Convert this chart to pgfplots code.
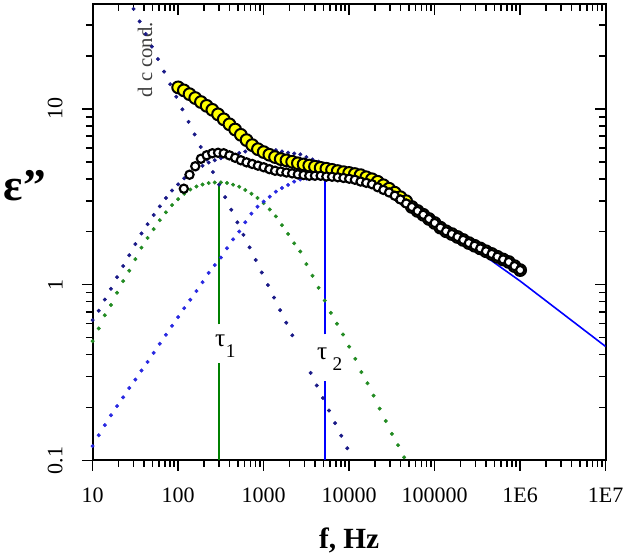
\documentclass[border=0pt]{standalone}
\usepackage{pgfplots}
\pgfplotsset{compat=1.18}
\usepackage{fontspec}
\setmainfont{Liberation Serif}
\definecolor{gdot}{RGB}{34,139,34}
\definecolor{bdot}{RGB}{40,40,225}
\definecolor{ndot}{RGB}{25,25,135}
\definecolor{gline}{RGB}{0,128,0}
\definecolor{bline}{RGB}{0,0,255}
\definecolor{yel}{RGB}{255,255,0}
\definecolor{txtgray}{RGB}{60,60,60}
\begin{document}
\begin{tikzpicture}
% mirror axis: inward ticks on top and right
\begin{axis}[xmode=log, ymode=log, scale only axis, width=385pt, height=342.4pt,
    xmin=10, xmax=1e7, ymin=0.1, ymax=39.5,
    axis line style={line width=1.5pt},
    tick style={line width=1.2pt, black},
    major tick length=8pt, minor tick length=5pt,
    xtick={10,100,1000,10000,100000,1000000,10000000},
    ytick={0.1,1,10},
    minor xtick={20,30,40,50,60,70,80,90,200,300,400,500,600,700,800,900,2000,3000,4000,5000,6000,7000,8000,9000,20000,30000,40000,50000,60000,70000,80000,90000,200000,300000,400000,500000,600000,700000,800000,900000,2000000,3000000,4000000,5000000,6000000,7000000,8000000,9000000},
    minor ytick={0.2,0.3,0.4,0.5,0.6,0.7,0.8,0.9,2,3,4,5,6,7,8,9,20,30},
    tick align=inside, xtick pos=right, ytick pos=right,
    xticklabels={}, yticklabels={}]
\end{axis}
\begin{axis}[xmode=log, ymode=log, scale only axis, width=385pt, height=342.4pt,
    xmin=10, xmax=1e7, ymin=0.1, ymax=39.5,
    axis line style={line width=1.5pt},
    tick style={line width=1.2pt, black},
    major tick length=8pt, minor tick length=5pt,
    xtick={10,100,1000,10000,100000,1000000,10000000},
    ytick={0.1,1,10},
    minor xtick={20,30,40,50,60,70,80,90,200,300,400,500,600,700,800,900,2000,3000,4000,5000,6000,7000,8000,9000,20000,30000,40000,50000,60000,70000,80000,90000,200000,300000,400000,500000,600000,700000,800000,900000,2000000,3000000,4000000,5000000,6000000,7000000,8000000,9000000},
    minor ytick={0.2,0.3,0.4,0.5,0.6,0.7,0.8,0.9,2,3,4,5,6,7,8,9,20,30},
  name=main, tick align=outside, xtick pos=left, ytick pos=left,
  xticklabels={10,100,1000,10000,100000,1E6,1E7},
  yticklabels={0.1,1,10},
  tick label style={font=\fontsize{16.5}{18}\selectfont},
  xticklabel shift=9pt,
  yticklabel shift=11pt,
  yticklabel style={rotate=90, anchor=south},
  xlabel={f, Hz},
  xlabel style={font=\fontsize{22}{26}\selectfont\bfseries, at={(axis description cs:0.5,-0.176)}, anchor=center},
  ylabel={ε\symbol{34}},
  ylabel style={rotate=-90, font=\fontsize{34}{40}\selectfont\bfseries, at={(axis description cs:-0.132,0.601)}, anchor=center},
]
% relaxation 1 (green dotted)
\addplot[only marks, mark=*, mark size=1.3pt, color=gdot] coordinates {
(10,0.4763)(11.788,0.5630)(13.895,0.6692)(16.379,0.7657)(19.307,0.8984)(22.758,1.0469)(26.827,1.1995)(31.623,1.3944)(37.276,1.6226)(43.940,1.8420)(51.795,2.0671)(61.054,2.3253)(71.969,2.5785)(84.834,2.8333)(100,3.0606)(117.88,3.2888)(138.95,3.4747)(163.79,3.6141)(193.07,3.7096)(227.58,3.7830)(268.27,3.8135)(316.23,3.8135)(372.76,3.7882)(439.40,3.7001)(517.95,3.6043)(610.54,3.4524)(719.69,3.2888)(848.34,3.1123)(1000,2.9083)(1178.8,2.6750)(1389.5,2.4443)(1637.9,2.1781)(1930.7,1.9414)(2275.8,1.7170)(2682.7,1.5423)(3162.3,1.3078)(3727.6,1.1220)(4394.0,0.9590)(5179.5,0.8111)(6105.4,0.6906)(7196.9,0.5987)(8483.4,0.5199)(10000,0.4431)(11788,0.3778)(13895,0.3179)(16379,0.2746)(19307,0.2334)(22758,0.1969)(26827,0.1674)(31623,0.1414)(37276,0.1220)(43940,0.1040)
};
% relaxation 2 (blue dotted)
\addplot[only marks, mark=*, mark size=1.3pt, color=bdot] coordinates {
(10,0.1206)(11.788,0.1389)(13.895,0.1587)(16.379,0.1806)(19.307,0.2035)(22.758,0.2283)(26.827,0.2578)(31.623,0.2882)(37.276,0.3241)(43.940,0.3628)(51.795,0.4088)(61.054,0.4603)(71.969,0.5180)(84.834,0.5824)(100,0.6535)(117.88,0.7343)(138.95,0.8196)(163.79,0.9185)(193.07,1.0318)(227.58,1.1654)(268.27,1.2905)(316.23,1.4256)(372.76,1.6100)(439.40,1.8088)(517.95,2.0035)(610.54,2.2624)(719.69,2.5316)(848.34,2.7749)(1000,2.9664)(1178.8,3.1623)(1389.5,3.3766)(1637.9,3.5440)(1930.7,3.6898)(2275.8,3.8528)(2682.7,3.9656)(3162.3,4.0070)(3727.6,4.0281)(4394.0,4.0440)(5179.5,4.0551)
};
% sum of relaxations (navy dotted)
\addplot[only marks, mark=*, mark size=1.3pt, color=ndot] coordinates {
(10,0.6284)(11.788,0.7099)(13.895,0.8219)(16.379,0.946)(19.307,1.102)(22.758,1.275)(26.827,1.47)(31.623,1.70)(37.276,1.955)(43.940,2.205)(51.795,2.49)(61.054,2.786)(71.969,3.11)(84.834,3.43)(100,3.72)(117.88,4.023)(138.95,4.294)(163.79,4.533)(193.07,4.741)(227.58,4.948)(268.27,5.104)(316.23,5.239)(372.76,5.398)(439.40,5.509)(517.95,5.608)(610.54,5.715)(719.69,5.820)(848.34,5.887)(1000,5.875)(1178.8,5.837)(1389.5,5.821)(1637.9,5.722)(1930.7,5.631)(2275.8,5.570)(2682.7,5.508)(3162.3,5.315)(3727.6,5.150)(4394.0,5.003)(5179.5,4.866)
};
% dc conductivity (navy dotted)
\addplot[only marks, mark=*, mark size=1.3pt, color=ndot] coordinates {
(30.10,37.04)(35.48,31.43)(41.82,26.66)(49.30,22.62)(58.11,19.19)(68.50,16.28)(80.75,13.81)(95.18,11.71)(112.2,9.938)(132.26,8.430)(155.90,7.152)(183.77,6.067)(216.63,5.147)(255.35,4.367)(301.0,3.704)(354.8,3.143)(418.2,2.666)(493.0,2.262)(581.1,1.919)(685.0,1.628)(807.5,1.381)(951.8,1.171)(1122,0.9938)(1322.6,0.8430)(1559,0.7152)(1837.7,0.6067)(2166.3,0.5147)
(3548,0.3143)(4182,0.2666)(4930,0.2262)(5811,0.1919)(6850,0.1628)(8075,0.1381)(9518,0.1171)
};
% fit (solid blue)
\addplot[bline, line width=1.2pt] coordinates {
(5179.5,4.866)(6310,4.775)(7943,4.56)(10000,4.385)(12589,4.16)(15849,3.95)(19953,3.75)(25119,3.56)(31623,3.33)(39811,3.14)(50119,2.92)(63096,2.74)(79433,2.55)(100000,2.36)(125893,2.164)(316228,1.56)(1000000,1.047)(10000000,0.444)
};
% tau lines
\addplot[gline, line width=1.5pt] coordinates {(303,0.1)(303,0.36)};
\addplot[gline, line width=1.5pt] coordinates {(303,0.593)(303,3.75)};
\addplot[bline, line width=1.5pt] coordinates {(5250,0.1)(5250,0.281)};
\addplot[bline, line width=1.5pt] coordinates {(5250,0.52)(5250,4.05)};
% data: total (yellow)
\addplot[only marks, mark=*, mark size=4.4pt, mark options={fill=yel, draw=black, line width=1.5pt}] coordinates {
(100,13.25)(116.6,12.74)(135.9,12.12)(158.5,11.52)(184.8,10.93)(215.4,10.40)(251.2,9.87)(292.9,9.305)(341.5,8.716)(398.1,8.166)(464.2,7.627)(541.2,7.116)(631.0,6.640)(735.6,6.219)(857.7,5.895)(1000,5.675)(1166,5.478)(1359,5.316)(1585,5.178)(1848,5.091)(2154,4.999)(2512,4.900)(2929,4.825)(3415,4.757)(3981,4.683)(4642,4.616)(5412,4.562)(6310,4.496)(7356,4.426)(8577,4.363)(10000,4.317)(11660,4.256)(13590,4.195)(15850,4.081)(18480,3.976)(21540,3.848)(25120,3.676)(29290,3.512)(34150,3.332)(39810,3.142)(46420,2.981)(54120,2.764)(63100,2.623)(73560,2.496)(85770,2.362)(100000,2.241)(116600,2.108)(135900,2.011)(158500,1.939)(184800,1.866)(215400,1.795)(251200,1.723)(292900,1.663)(341500,1.606)(398100,1.548)(464200,1.494)(541200,1.439)(631000,1.390)(735600,1.344)(857700,1.274)(1000000,1.209)
};
% data: dc subtracted (open black)
\addplot[only marks, mark=*, mark size=3.1pt, mark options={fill=white, draw=black, line width=1.6pt}] coordinates {
(116.6,3.512)(135.9,4.217)(158.5,4.713)(184.8,5.199)(215.4,5.443)(251.2,5.588)(292.9,5.623)(341.5,5.588)(398.1,5.436)(464.2,5.267)(541.2,5.098)(631.0,4.960)(735.6,4.857)(857.7,4.750)(1000,4.652)(1166,4.538)(1359,4.444)(1585,4.398)(1848,4.340)(2154,4.295)(2512,4.239)(2929,4.201)(3415,4.162)(3981,4.162)(4642,4.162)(5412,4.119)(6310,4.108)(7356,4.081)(8577,4.044)(10000,4.002)(11660,3.950)(13590,3.858)(15850,3.793)(18480,3.724)(21540,3.581)(25120,3.457)(29290,3.345)(34150,3.204)(39810,3.049)(46420,2.893)(54120,2.764)(63100,2.623)(73560,2.496)(85770,2.362)(100000,2.241)(116600,2.108)(135900,2.011)(158500,1.939)(184800,1.866)(215400,1.795)(251200,1.723)(292900,1.663)(341500,1.606)(398100,1.548)(464200,1.494)(541200,1.439)(631000,1.390)(735600,1.344)(857700,1.274)(1000000,1.209)
};
% labels
\node[rotate=90, fill=white, inner sep=1pt, text=txtgray, font=\fontsize{15.5}{17}\selectfont] at (axis cs:41,19) {d c cond.};
\node[anchor=base west, inner sep=0pt] at (axis cs:269,0.444) {{\fontsize{19}{20}\selectfont τ}\hspace{0.5pt}\raisebox{-8pt}{\fontsize{14.5}{16}\selectfont 1}};
\node[anchor=base west, inner sep=0pt] at (axis cs:4198,0.375) {{\fontsize{19}{20}\selectfont τ}\hspace{4pt}\raisebox{-8pt}{\fontsize{14.5}{16}\selectfont 2}};
\end{axis}
\pgfresetboundingbox
\path[use as bounding box] ([xshift=-69.5pt,yshift=-72.4pt]main.south west) rectangle ([xshift=17.5pt,yshift=3pt]main.north east);
\end{tikzpicture}
\end{document}
